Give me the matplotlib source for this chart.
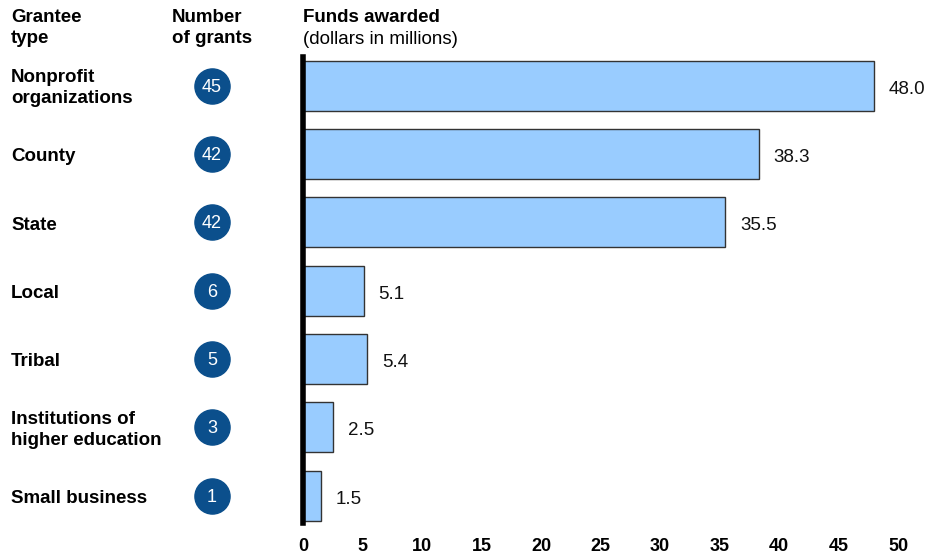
import matplotlib
matplotlib.use("Agg")
import matplotlib.pyplot as plt
from matplotlib.transforms import blended_transform_factory

plt.rcParams['font.family'] = ['Liberation Sans', 'DejaVu Sans']

categories = ["Nonprofit\norganizations", "County", "State", "Local", "Tribal",
              "Institutions of\nhigher education", "Small business"]
num_grants = [45, 42, 42, 6, 5, 3, 1]
funds = [48.0, 38.3, 35.5, 5.1, 5.4, 2.5, 1.5]
xticks = [0, 5, 10, 15, 20, 25, 30, 35, 40, 45, 50]

W, H = 946, 557
fig = plt.figure(figsize=(W / 100, H / 100), dpi=100)
ax = fig.add_axes([303 / W, 34 / H, 595 / W, 466 / H])

y = list(range(len(categories)))
ax.barh(y, funds, height=0.73, color="#99CCFF", edgecolor="#333333", linewidth=1.0, zorder=2)
ax.set_xlim(0, 50)
ax.set_ylim(6.4, -0.42)

for yi, v in zip(y, funds):
    ax.text(v + 1.25, yi + 0.05, f"{v:.1f}", va="center", ha="left", fontsize=13.5, color="#111111")

for s in ["top", "right", "bottom"]:
    ax.spines[s].set_visible(False)
ax.spines["left"].set_linewidth(4)
ax.spines["left"].set_color("black")
ax.spines["left"].set_zorder(3)

ax.set_yticks([])
ax.set_xticks(xticks)
ax.set_xticklabels([str(t) for t in xticks], fontsize=13, fontweight="bold")
ax.tick_params(axis="x", length=0, pad=11)

tr = blended_transform_factory(fig.transFigure, ax.transData)
for yi, cat, n in zip(y, categories, num_grants):
    ax.text(11 / W, yi + 0.04, cat, transform=tr, ha="left", va="center", fontsize=13.5,
            fontweight="bold", linespacing=1.3, clip_on=False)
    ax.scatter([212 / W], [yi], s=640, color="#0B4F8C", transform=tr, clip_on=False, zorder=4)
    ax.text(212 / W, yi + 0.02, str(n), transform=tr, ha="center", va="center", fontsize=13,
            color="white", zorder=5, clip_on=False)

fig.text(11 / W, 1 - 9 / H, "Grantee\ntype", ha="left", va="top", fontsize=13.5,
         fontweight="bold", linespacing=1.3)
fig.text(172 / W, 1 - 9 / H, "Number\nof grants", ha="left", va="top", fontsize=13.5,
         fontweight="bold", linespacing=1.3)
fig.text(303 / W, 1 - 9 / H, "Funds awarded", ha="left", va="top", fontsize=13.5,
         fontweight="bold")
fig.text(303 / W, 1 - 31 / H, "(dollars in millions)", ha="left", va="top", fontsize=13.5)

fig.savefig("out.png", dpi=100)
